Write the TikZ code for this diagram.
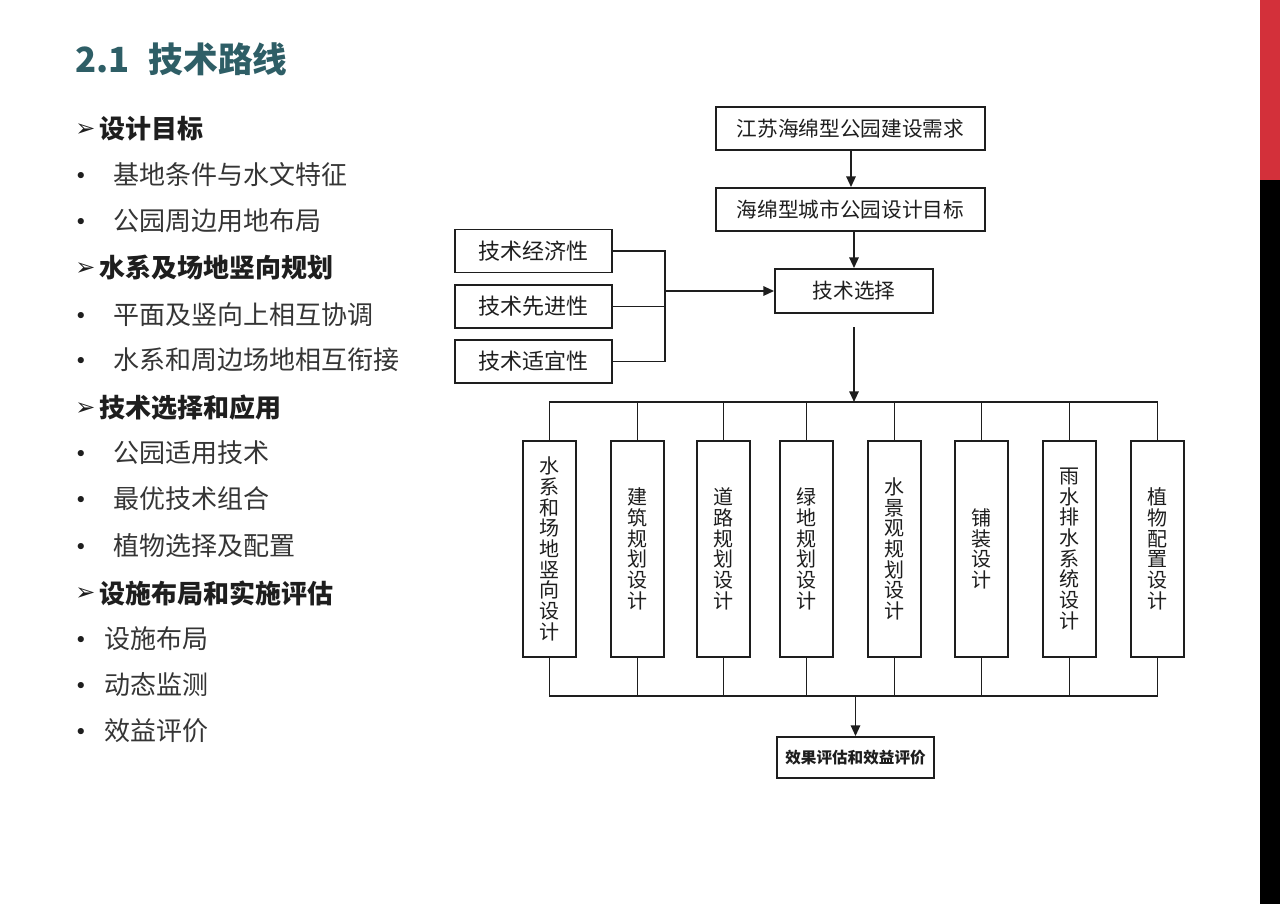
\documentclass[tikz,border=0pt]{standalone}
\usepackage{fontspec}
\setmainfont{Noto Sans CJK SC}
\newfontfamily\dejavu{DejaVu Sans}
\usetikzlibrary{arrows.meta}
\definecolor{titleteal}{HTML}{2E5E66}
\definecolor{barred}{HTML}{D3303A}
\definecolor{ink}{HTML}{1E1E1E}
\tikzset{
  box/.style={draw=ink, line width=1.4pt, inner sep=0pt, text=ink, font=\fontsize{15.5}{18}\selectfont},
  vbox/.style={box, minimum width=39.75pt, minimum height=162pt, align=center, font=\fontsize{15}{15.5}\selectfont},
  conn/.style={line width=1.4pt, draw=ink},
  arr/.style={conn, -{Triangle[length=8pt,width=7pt]}},
  head/.style={anchor=west, inner sep=0pt, text=ink, font=\fontsize{19.5}{20}\selectfont\bfseries},
  item/.style={anchor=west, inner sep=0pt, text=ink!90, font=\fontsize{19.5}{20}\selectfont},
  bul/.style={inner sep=0pt, text=ink, font=\dejavu\fontsize{16}{16}\selectfont},
  harrow/.style={anchor=west, inner sep=0pt, text=ink, font=\dejavu\fontsize{18}{18}\selectfont}
}
\begin{document}
\begin{tikzpicture}[x=0.75pt,y=-0.75pt]
\useasboundingbox (0,0) rectangle (1280,904);
\fill[white] (0,0) rectangle (1280,904);
% side bar
\fill[barred] (1260,0) rectangle (1280,180);
\fill[black] (1260,180) rectangle (1280,904);

% title
\node[anchor=west, inner sep=0pt, text=titleteal, font=\fontsize{26}{28}\selectfont\bfseries] (title) at (75,59) {2.1\hspace{0.55em}技术路线};

% left list
\node[harrow] (a1) at (75,130) {➢};
\node[head] (h1) at (99,129) {设计目标};
\node[bul] (b1) at (81,178) {•};
\node[item] (t1) at (113,175) {基地条件与水文特征};
\node[bul] (b2) at (81,224) {•};
\node[item] (t2) at (113,221) {公园周边用地布局};
\node[harrow] (a2) at (75,269) {➢};
\node[head] (h2) at (99,268) {水系及场地竖向规划};
\node[bul] (b3) at (81,318) {•};
\node[item] (t3) at (113,315) {平面及竖向上相互协调};
\node[bul] (b4) at (81,363) {•};
\node[item] (t4) at (113,360) {水系和周边场地相互衔接};
\node[harrow] (a3) at (75,409) {➢};
\node[head] (h3) at (99,408) {技术选择和应用};
\node[bul] (b5) at (81,456) {•};
\node[item] (t5) at (113,453) {公园适用技术};
\node[bul] (b6) at (81,502) {•};
\node[item] (t6) at (113,499) {最优技术组合};
\node[bul] (b7) at (81,549) {•};
\node[item] (t7) at (113,546) {植物选择及配置};
\node[harrow] (a4) at (75,594) {➢};
\node[head] (h4) at (99,593) {设施布局和实施评估};
\node[bul] (b8) at (81,642) {•};
\node[item] (t8) at (104,639) {设施布局};
\node[bul] (b9) at (81,688) {•};
\node[item] (t9) at (104,685) {动态监测};
\node[bul] (b10) at (81,734) {•};
\node[item] (t10) at (104,731) {效益评价};

% flowchart top
\node[box, minimum width=201.75pt, minimum height=32.25pt] (A) at (850.5,128.5) {江苏海绵型公园建设需求};
\node[box, minimum width=201.75pt, minimum height=32.25pt] (B) at (850.5,209.5) {海绵型城市公园设计目标};
\node[box, minimum width=118.5pt, minimum height=33pt] (C) at (854,291) {技术选择};
\node[box, minimum width=117.75pt, minimum height=32.25pt, font=\fontsize{16.5}{18}\selectfont] (L1) at (533.5,251) {技术经济性};
\node[box, minimum width=117.75pt, minimum height=32.25pt, font=\fontsize{16.5}{18}\selectfont] (L2) at (533.5,306.5) {技术先进性};
\node[box, minimum width=117.75pt, minimum height=32.25pt, font=\fontsize{16.5}{18}\selectfont] (L3) at (533.5,361.5) {技术适宜性};

\draw[arr] (A.south -| 851,0) -- (B.north -| 851,0);
\draw[arr] (B.south -| 854,0) -- (C.north -| 854,0);

\coordinate (J) at (665,291);
\draw[conn] (L1.east) -| (J);
\draw[conn] (L2.east) -| (J);
\draw[conn] (L3.east) -| (J);
\draw[arr] (J) -- (C.west);

% vertical boxes
\node[vbox] (V1) at (549.5,549) {水\\系\\和\\场\\地\\竖\\向\\设\\计};
\node[vbox] (V2) at (637.5,549) {建\\筑\\规\\划\\设\\计};
\node[vbox] (V3) at (723.5,549) {道\\路\\规\\划\\设\\计};
\node[vbox] (V4) at (806.5,549) {绿\\地\\规\\划\\设\\计};
\node[vbox] (V5) at (894.5,549) {水\\景\\观\\规\\划\\设\\计};
\node[vbox] (V6) at (981.5,549) {铺\\装\\设\\计};
\node[vbox] (V7) at (1069.5,549) {雨\\水\\排\\水\\系\\统\\设\\计};
\node[vbox] (V8) at (1157.5,549) {植\\物\\配\\置\\设\\计};

\coordinate (C0) at (854,327);
\coordinate (TB) at (854,402);
\draw[arr] (C0) -- (TB);
\coordinate (BB) at (855.5,696);
\foreach \i in {1,...,8} {
  \draw[conn] (V\i.north) |- (TB);
  \draw[conn] (V\i.south) |- (BB);
}

\node[box, minimum width=117.75pt, minimum height=30.75pt, font=\fontsize{11.7}{13}\selectfont\bfseries] (D) at (855.5,757.5) {效果评估和效益评价};
\draw[arr] (BB) -- (D.north);
\end{tikzpicture}
\end{document}
